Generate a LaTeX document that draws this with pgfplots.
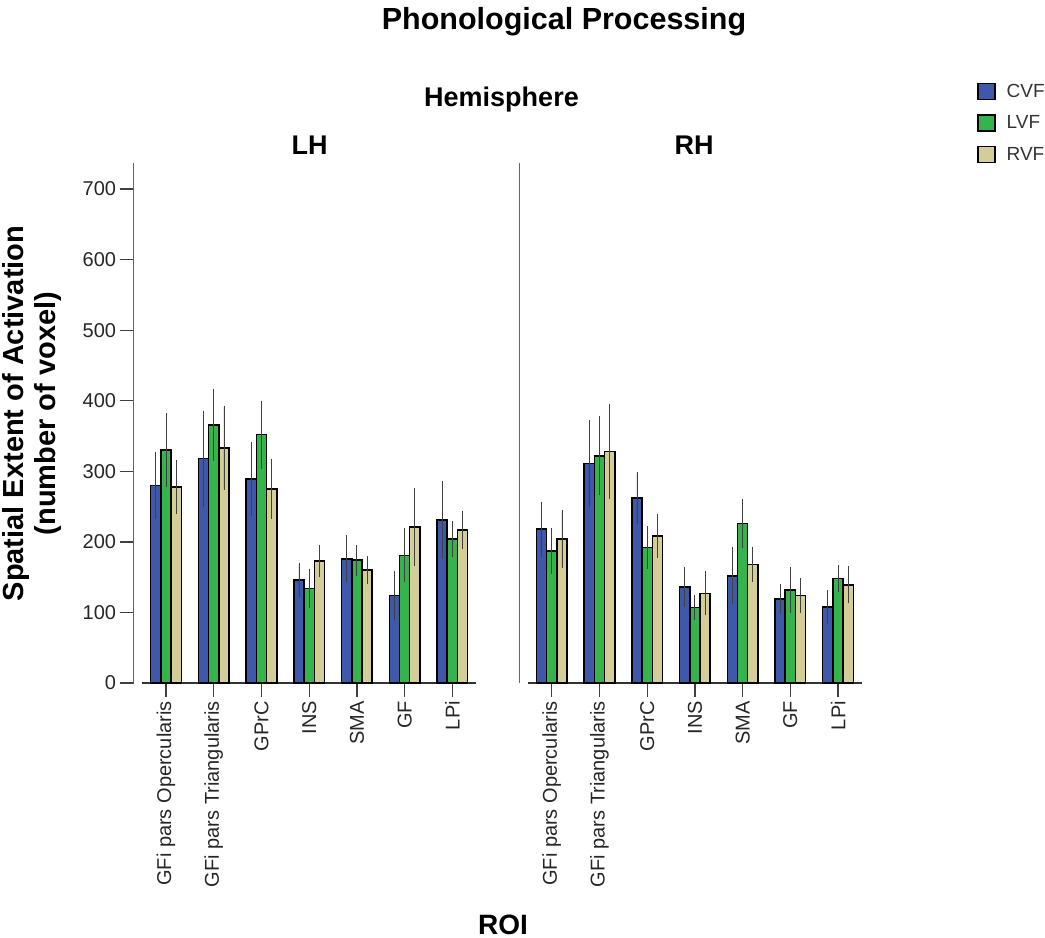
\documentclass[border=0pt]{standalone}
\usepackage{fontspec}
\setmainfont{Liberation Sans}
\usepackage{pgfplots}
\usepackage{pgfplotstable}
\pgfplotsset{compat=1.18}
\definecolor{cvf}{HTML}{3E58AA}
\definecolor{lvf}{HTML}{34B44A}
\definecolor{rvf}{HTML}{D4CE96}

\pgfplotstableread{
x cvf cvfe lvf lvfe rvf rvfe
0 280 45 330 50 278 36
1 318 66 366 49 333 58
2 289 50 352 46 275 40
3 146 22 134 26 173 21
4 176 31 174 20 160 18
5 124 33 181 36 221 53
6 231 53 204 23 217 25
}\lhdata

\pgfplotstableread{
x cvf cvfe lvf lvfe rvf rvfe
0 218 37 187 30 204 39
1 311 59 322 54 328 65
2 262 35 192 28 208 29
3 136 26 107 15 127 29
4 152 38 226 32 168 23
5 119 19 132 30 124 23
6 108 22 148 17 139 24
}\rhdata

\pgfplotsset{
  panel/.style={
    scale only axis, width=342.6bp, height=520bp,
    xmin=-0.68, xmax=6.5, ymin=0, ymax=737,
    axis x line*=bottom, axis y line*=left,
    ybar=0pt, bar width=10.2bp,
    xtick={0,...,6},
    xticklabels={GFi pars Opercularis, GFi pars Triangularis, GPrC, INS, SMA, GF, LPi},
    xticklabel style={rotate=90, anchor=east, font=\fontsize{20bp}{24bp}\selectfont, inner sep=4bp, text=black!85},
    yticklabel style={text=black!85},
    tick align=outside, major tick length=14bp,
    tick style={black!75, line width=1.3bp},
    x axis line style={black!80, line width=1.2bp, shorten <=8.5bp},
    y axis line style={black!60, line width=1.2bp},
    anchor=south west, clip=false,
  },
  bars/.style={draw=black, line width=1.5bp, fill=#1,
    legend image code/.code={\draw[line width=1.4bp] (0bp,-8bp) rectangle (17bp,8bp); \path (26bp,0bp);},
    error bars/.cd, y dir=both, y explicit,
    error bar style={line width=0.9bp, black!75},
    error mark options={mark size=1.5bp, line width=0.9bp},
  },
}

\begin{document}
\begin{tikzpicture}
\path[use as bounding box] (0,0) rectangle (1045bp,938bp);

\begin{axis}[panel, at={(133.6bp,255bp)},
  ytick={0,100,...,700},
  yticklabel style={font=\fontsize{20bp}{24bp}\selectfont},
  /pgf/number format/assume math mode=true,
]
\addplot[bars=cvf] table[x=x, y=cvf, y error=cvfe] {\lhdata};
\addplot[bars=lvf] table[x=x, y=lvf, y error=lvfe] {\lhdata};
\addplot[bars=rvf] table[x=x, y=rvf, y error=rvfe] {\lhdata};
\end{axis}

\begin{axis}[panel, at={(519.3bp,255bp)},
  ytick=\empty,
  legend style={at={(1.336,1.156)}, anchor=north west, draw=none, fill=none,
    font=\fontsize{19bp}{22bp}\selectfont, row sep=13bp, inner sep=0pt,
    nodes={inner sep=2bp, text=black!80}},
  legend cell align=left,
]
\addplot[bars=cvf] table[x=x, y=cvf, y error=cvfe] {\rhdata};
\addplot[bars=lvf] table[x=x, y=lvf, y error=lvfe] {\rhdata};
\addplot[bars=rvf] table[x=x, y=rvf, y error=rvfe] {\rhdata};
\legend{CVF, LVF, RVF}
\end{axis}

\node[anchor=base, font=\bfseries\fontsize{30.5bp}{36bp}\selectfont] at (564bp,908.7bp) {Phonological Processing};
\node[anchor=base, font=\bfseries\fontsize{27bp}{32bp}\selectfont] at (501.5bp,831.3bp) {Hemisphere};
\node[anchor=base, font=\bfseries\fontsize{27bp}{32bp}\selectfont] at (309.5bp,783.7bp) {LH};
\node[anchor=base, font=\bfseries\fontsize{27bp}{32bp}\selectfont] at (694bp,783.7bp) {RH};
\node[anchor=base, font=\bfseries\fontsize{28bp}{32bp}\selectfont] at (503bp,4bp) {ROI};
\node[anchor=base, rotate=90, font=\bfseries\fontsize{29bp}{32bp}\selectfont] at (23bp,524.5bp) {Spatial Extent of Activation};
\node[anchor=base, rotate=90, font=\bfseries\fontsize{29bp}{32bp}\selectfont] at (55bp,524.5bp) {(number of voxel)};
\end{tikzpicture}
\end{document}
